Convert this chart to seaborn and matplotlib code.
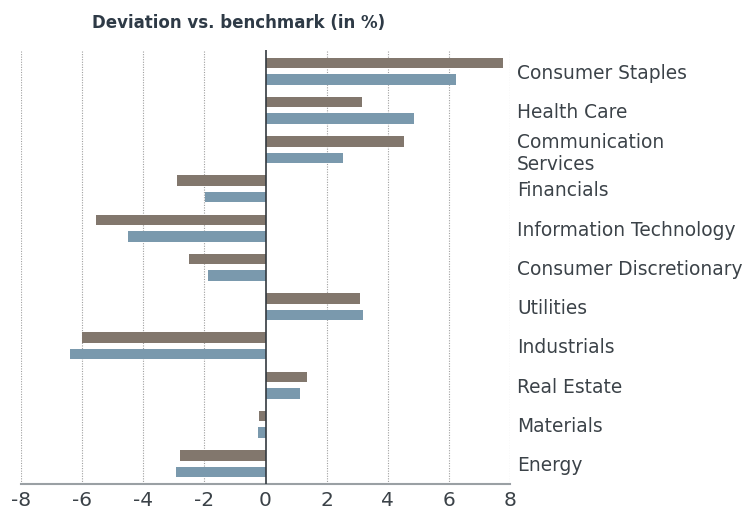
import matplotlib
matplotlib.use('Agg')
import matplotlib.pyplot as plt
import pandas as pd
import seaborn as sns

sectors = ['Consumer Staples', 'Health Care', 'Communication\nServices', 'Financials',
           'Information Technology', 'Consumer Discretionary', 'Utilities', 'Industrials',
           'Real Estate', 'Materials', 'Energy']
series_a = [7.76, 3.16, 4.53, -2.90, -5.55, -2.50, 3.09, -6.00, 1.36, -0.21, -2.80]
series_b = [6.22, 4.86, 2.54, -1.99, -4.50, -1.88, 3.19, -6.40, 1.13, -0.25, -2.93]
series_names = ['Series A', 'Series B']
x_ticks = [-8, -6, -4, -2, 0, 2, 4, 6, 8]

colors = ['#82776d', '#7a99ad']
text_color = '#3b4248'


def build_frame():
    rows = []
    for name, values in zip(series_names, [series_a, series_b]):
        for sector, value in zip(sectors, values):
            rows.append({'sector': sector, 'series': name, 'value': value})
    return pd.DataFrame(rows)


def main():
    sns.set_theme(style='white')
    plt.rcParams['font.family'] = ['DejaVu Sans']

    df = build_frame()
    fig = plt.figure(figsize=(7.45, 5.12), dpi=100)
    ax = fig.add_axes([21 / 745, 1 - 484 / 512, 489 / 745, 434 / 512])

    sns.barplot(data=df, x='value', y='sector', hue='series', order=sectors,
                hue_order=series_names, palette=colors, saturation=1, orient='h',
                width=0.84, gap=0.36, linewidth=0, legend=False, ax=ax)

    ax.set_xlim(-8, 8)
    ax.set_ylim(10.52, -0.54)
    ax.set_xticks(x_ticks)
    ax.set_xticklabels([str(t) for t in x_ticks], fontsize=14.5, color=text_color)
    ax.set_xlabel('')
    ax.set_ylabel('')

    # category labels sit on the right side
    ax.yaxis.tick_right()
    ax.set_yticks(range(len(sectors)))
    ax.set_yticklabels(sectors, fontsize=13.4, color=text_color, ha='left')
    ax.tick_params(axis='y', length=0, pad=5)
    ax.tick_params(axis='x', length=0, pad=5)

    for x in x_ticks:
        if x != 0:
            ax.axvline(x, color='#a0a0a0', linestyle=(0, (1, 1.3)), linewidth=0.8, zorder=0)
    ax.axvline(0, color='#333a40', linewidth=1.2, zorder=3)

    for side in ['top', 'left', 'right']:
        ax.spines[side].set_visible(False)
    ax.spines['bottom'].set_color('#9aa0a4')
    ax.spines['bottom'].set_linewidth(1.5)

    fig.text(92 / 745, 1 - 23 / 512, 'Deviation vs. benchmark (in %)', fontsize=12,
             fontweight='bold', color='#2e3a46', ha='left', va='center')

    fig.savefig('out.png', dpi=100)


if __name__ == '__main__':
    main()
